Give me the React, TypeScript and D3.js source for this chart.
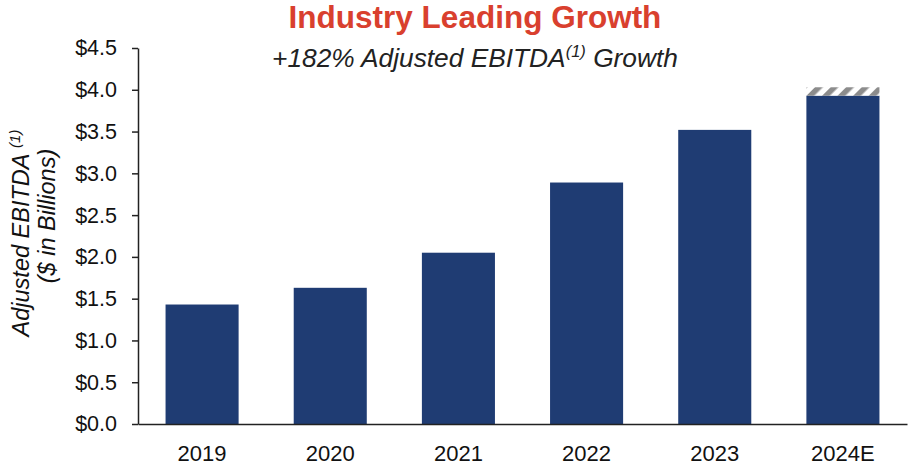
import { useEffect, useRef } from "react";
import * as d3 from "d3";

const years = ["2019", "2020", "2021", "2022", "2023", "2024E"];
const ebitda = [1.43, 1.63, 2.05, 2.89, 3.52, 3.93];
// guidance range top for the estimate year (hatched cap)
const rangeTop = [null, null, null, null, null, 4.03];
const yTicks = [0, 0.5, 1, 1.5, 2, 2.5, 3, 3.5, 4, 4.5];

export default function App() {
  const svgRef = useRef<SVGSVGElement>(null);

  useEffect(() => {
    if (!svgRef.current) return;
    const svg = d3.select(svgRef.current);
    svg.selectAll("*").remove();

    const width = 910;
    const height = 467;
    const font = "Liberation Sans, Arial, sans-serif";

    const x = d3.scaleBand().domain(years).range([138, 907]).paddingInner(0.43).paddingOuter(0.215);
    const y = d3.scaleLinear().domain([0, 4.5]).range([424, 48]);

    // hatch pattern
    const defs = svg.append("defs");
    const pat = defs
      .append("pattern")
      .attr("id", "hatch")
      .attr("patternUnits", "userSpaceOnUse")
      .attr("width", 11)
      .attr("height", 11)
      .attr("patternTransform", "rotate(45)");
    pat.append("rect").attr("width", 11).attr("height", 11).attr("fill", "#fff");
    pat.append("rect").attr("x", 0).attr("width", 5.5).attr("height", 11).attr("fill", "#8c8c8c");

    // title
    svg
      .append("text")
      .attr("x", 475)
      .attr("y", 28)
      .attr("text-anchor", "middle")
      .attr("font-family", font)
      .attr("font-weight", "bold")
      .attr("font-size", 31.5)
      .attr("fill", "#d9402e")
      .text("Industry Leading Growth");

    const sub = svg
      .append("text")
      .attr("x", 475)
      .attr("y", 67)
      .attr("text-anchor", "middle")
      .attr("font-family", font)
      .attr("font-style", "italic")
      .attr("font-size", 26.3)
      .attr("fill", "#222");
    sub.append("tspan").text("+182% Adjusted EBITDA");
    sub.append("tspan").attr("font-size", 16.5).attr("dy", -10).text("(1)");
    sub.append("tspan").attr("dy", 10).text(" Growth");

    // bars
    svg
      .append("g")
      .selectAll("rect")
      .data(years)
      .join("rect")
      .attr("x", (d) => x(d)!)
      .attr("width", x.bandwidth())
      .attr("y", (d, i) => y(ebitda[i]))
      .attr("height", (d, i) => y(0) - y(ebitda[i]))
      .attr("fill", "#1f3c73");

    svg
      .append("g")
      .selectAll("rect")
      .data(years.filter((d, i) => rangeTop[i] != null))
      .join("rect")
      .attr("x", (d) => x(d)!)
      .attr("width", x.bandwidth())
      .attr("y", (d) => y(rangeTop[years.indexOf(d)] as number))
      .attr("height", (d) => y(ebitda[years.indexOf(d)]) - y(rangeTop[years.indexOf(d)] as number))
      .attr("fill", "url(#hatch)");

    // y axis
    const yAxis = d3
      .axisLeft(y)
      .tickValues(yTicks)
      .tickSize(6)
      .tickSizeOuter(0)
      .tickPadding(15)
      .tickFormat((d) => `$${(d as number).toFixed(1)}`);
    const ga = svg.append("g").attr("transform", "translate(138,0)").call(yAxis);
    ga.select(".domain").attr("stroke", "#222").attr("stroke-width", 1.5);
    ga.selectAll(".tick line").attr("stroke", "#222").attr("stroke-width", 1.5);
    ga.selectAll(".tick text")
      .attr("font-family", font)
      .attr("font-size", 21.5)
      .attr("fill", "#111");

    // x axis
    const xAxis = d3.axisBottom(x).tickSize(0).tickSizeOuter(0).tickPadding(21);
    const gx = svg.append("g").attr("transform", "translate(0,424)").call(xAxis);
    gx.select(".domain").attr("stroke", "#222").attr("stroke-width", 1.5);
    gx.selectAll(".tick text")
      .attr("font-family", font)
      .attr("font-size", 22)
      .attr("fill", "#111");

    // y title
    const yt = svg
      .append("text")
      .attr("transform", "translate(29,233) rotate(-90)")
      .attr("text-anchor", "middle")
      .attr("font-family", font)
      .attr("font-style", "italic")
      .attr("font-size", 23.5)
      .attr("fill", "#111");
    yt.append("tspan").text("Adjusted EBITDA ");
    yt.append("tspan").attr("font-size", 15).attr("dy", -9).text("(1)");
    svg
      .append("text")
      .attr("transform", "translate(55,216) rotate(-90)")
      .attr("text-anchor", "middle")
      .attr("font-family", font)
      .attr("font-style", "italic")
      .attr("font-size", 23.5)
      .attr("fill", "#111")
      .text("($ in Billions)");

    svg.attr("width", width).attr("height", height);
  }, []);

  return <svg ref={svgRef} style={{ position: "absolute", left: 0, top: 0 }}></svg>;
}
